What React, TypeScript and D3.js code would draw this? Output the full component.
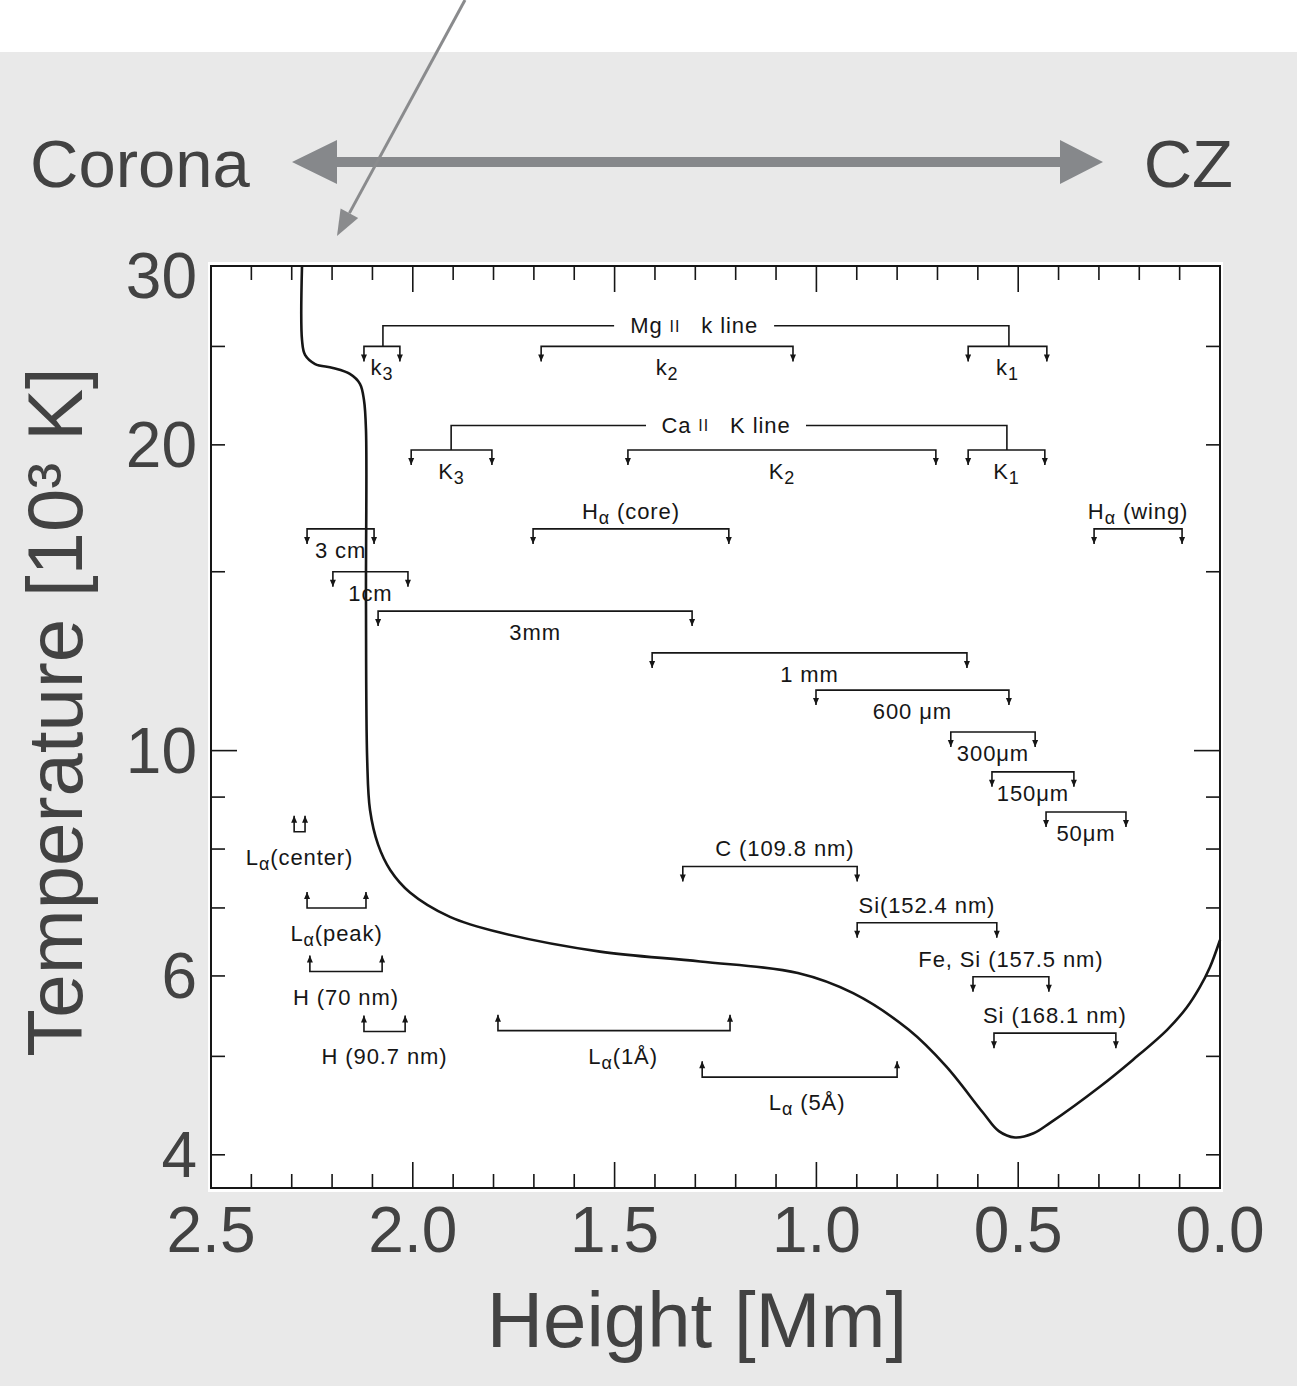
import * as d3 from "d3";

// ── Temperature profile (VAL-type model), height in Mm, T in 10^3 K ──

const profileHeight = [
  2.2745, 2.2745, 2.267, 2.242, 2.198, 2.156, 2.131, 2.121, 2.116, 2.116,
  2.113, 2.106, 2.086, 2.056, 2.007, 1.908, 1.784, 1.536, 1.288, 1.046,
  0.909, 0.771, 0.679, 0.587, 0.548, 0.508, 0.462, 0.421, 0.297, 0.216,
  0.131, 0.082, 0.05, 0.025, 0.0,
];
const profileTemp = [
  30, 25.37, 24.52, 24.02, 23.81, 23.49, 22.97, 22.14, 20.69, 14.07,
  9.79, 8.74, 8.08, 7.63, 7.25, 6.86, 6.62, 6.34, 6.2, 6.04,
  5.77, 5.31, 4.89, 4.4, 4.22, 4.16, 4.2, 4.3, 4.67, 4.96,
  5.31, 5.59, 5.85, 6.12, 6.51,
];

const xTickLabels = [2.5, 2.0, 1.5, 1.0, 0.5, 0.0];
const yTickLabels = [30, 20, 10, 6, 4];
const yTickValues = [4, 5, 6, 7, 8, 9, 10, 15, 20, 25];

// ── Formation-height brackets ──

interface Bracket {
  label: string; // "_x" marks a one-character subscript
  h0: number;
  h1: number;
  t: number;
  dir: "down" | "up";
  side: "below" | "above";
  labelH?: number;
}

const brackets: Bracket[] = [
  { label: "k_3", h0: 2.121, h1: 2.032, t: 25.0, dir: "down", side: "below" },
  { label: "k_2", h0: 1.682, h1: 1.058, t: 25.0, dir: "down", side: "below" },
  { label: "k_1", h0: 0.624, h1: 0.429, t: 25.0, dir: "down", side: "below" },
  { label: "K_3", h0: 2.004, h1: 1.804, t: 19.77, dir: "down", side: "below" },
  { label: "K_2", h0: 1.467, h1: 0.704, t: 19.77, dir: "down", side: "below" },
  { label: "K_1", h0: 0.624, h1: 0.434, t: 19.77, dir: "down", side: "below" },
  { label: "H_α (core)", h0: 1.702, h1: 1.217, t: 16.53, dir: "down", side: "above" },
  { label: "H_α (wing)", h0: 0.312, h1: 0.094, t: 16.53, dir: "down", side: "above" },
  { label: "3 cm", h0: 2.262, h1: 2.096, t: 16.53, dir: "down", side: "below" },
  { label: "1cm", h0: 2.198, h1: 2.012, t: 15.0, dir: "down", side: "below" },
  { label: "3mm", h0: 2.086, h1: 1.308, t: 13.72, dir: "down", side: "below" },
  { label: "1 mm", h0: 1.407, h1: 0.627, t: 12.48, dir: "down", side: "below" },
  { label: "600 μm", h0: 1.001, h1: 0.523, t: 11.47, dir: "down", side: "below" },
  { label: "300μm", h0: 0.667, h1: 0.458, t: 10.43, dir: "down", side: "below" },
  { label: "150μm", h0: 0.565, h1: 0.362, t: 9.53, dir: "down", side: "below" },
  { label: "50μm", h0: 0.431, h1: 0.233, t: 8.7, dir: "down", side: "below" },
  { label: "C (109.8 nm)", h0: 1.331, h1: 0.899, t: 7.69, dir: "down", side: "above", labelH: 1.078 },
  { label: "Si(152.4 nm)", h0: 0.899, h1: 0.553, t: 6.77, dir: "down", side: "above" },
  { label: "Fe, Si (157.5 nm)", h0: 0.612, h1: 0.424, t: 5.99, dir: "down", side: "above" },
  { label: "Si (168.1 nm)", h0: 0.56, h1: 0.258, t: 5.27, dir: "down", side: "above" },
  { label: "L_α(center)", h0: 2.294, h1: 2.267, t: 8.32, dir: "up", side: "below" },
  { label: "L_α(peak)", h0: 2.262, h1: 2.116, t: 7.0, dir: "up", side: "below" },
  { label: "H (70 nm)", h0: 2.255, h1: 2.076, t: 6.06, dir: "up", side: "below" },
  { label: "H (90.7 nm)", h0: 2.121, h1: 2.019, t: 5.29, dir: "up", side: "below" },
  { label: "L_α(1Å)", h0: 1.789, h1: 1.214, t: 5.3, dir: "up", side: "below", labelH: 1.479 },
  { label: "L_α (5Å)", h0: 1.283, h1: 0.8, t: 4.77, dir: "up", side: "below", labelH: 1.023 },
];

// line groups joining core/peak/wing brackets
const lineGroups = [
  { name: "Mg", ion: "II", rest: "k line", hLeft: 2.074, hRight: 0.523, t: 26.2, childT: 25.0, labelH: 1.303 },
  { name: "Ca", ion: "II", rest: "K line", hLeft: 1.905, hRight: 0.528, t: 20.9, childT: 19.77, labelH: 1.224 },
];

// ── Layout ──

const W = 1297;
const H = 1386;
const left = 211;
const right = 1220;
const top = 266;
const bottom = 1188;

const SLIDE_TEXT = "#424242";
const INK = "#161616";
const FONT = "'Liberation Sans', Arial, Helvetica, sans-serif";
const LABEL_SIZE = 22;
const NBSP = "\u00a0";

const x = d3.scaleLinear().domain([2.5, 0]).range([left, right]);
const y = d3.scaleLog().domain([3.71, 30]).range([bottom, top]);

function BracketLabel({ text, cx, cy }: { text: string; cx: number; cy: number }) {
  const parts = text.split("_");
  const nodes: any[] = [];
  parts.forEach((p, i) => {
    if (i === 0) {
      nodes.push(<tspan key={"m" + i}>{p}</tspan>);
      return;
    }
    nodes.push(
      <tspan key={"s" + i} fontSize={18} dy={7}>
        {p[0]}
      </tspan>
    );
    if (p.length > 1)
      nodes.push(
        <tspan key={"r" + i} fontSize={LABEL_SIZE} dy={-7}>
          {p.slice(1)}
        </tspan>
      );
  });
  return (
    <text
      x={cx}
      y={cy}
      textAnchor="middle"
      dominantBaseline="central"
      fontSize={LABEL_SIZE}
      letterSpacing={0.9}
      fill={INK}
    >
      {nodes}
    </text>
  );
}

function arrowHead(px: number, py: number, dir: "down" | "up") {
  const s = dir === "down" ? -1 : 1;
  return `M${px - 3},${py + s * 7}L${px + 3},${py + s * 7}L${px},${py}Z`;
}

export default function App() {
  const line = d3
    .line<number>()
    .x((_, i) => x(profileHeight[i]))
    .y((t) => y(t))
    .curve(d3.curveCatmullRom.alpha(0.5));

  const minorX = d3.range(0, 26).map((i) => i / 10);

  // slanted pointer arrow
  const p0 = [465, 0];
  const tip = [337, 236];
  const len = Math.hypot(p0[0] - tip[0], p0[1] - tip[1]);
  const ux = (p0[0] - tip[0]) / len;
  const uy = (p0[1] - tip[1]) / len;
  const bx = tip[0] + ux * 26;
  const by = tip[1] + uy * 26;
  const pointerHead = `M${tip[0]},${tip[1]}L${bx - uy * 10},${by + ux * 10}L${bx + uy * 10},${by - ux * 10}Z`;

  // double arrow Corona <-> CZ
  const ay = 162;
  const dbl = [
    [292, ay], [337, ay - 22], [337, ay - 5], [1060, ay - 5], [1060, ay - 22],
    [1103, ay], [1060, ay + 22], [1060, ay + 5], [337, ay + 5], [337, ay + 22],
  ];

  return (
    <div style={{ position: "absolute", left: 0, top: 0 }}>
      <svg width={W} height={H} style={{ display: "block" }} fontFamily={FONT}>
        <rect x={0} y={0} width={W} height={H} fill="#ffffff" />
        <rect x={0} y={52} width={W} height={H - 52} fill="#e9e9e9" />

        {/* slide annotations */}
        <text x={30} y={187} fontSize={67} fill={SLIDE_TEXT}>
          Corona
        </text>
        <text x={1233} y={187} fontSize={67} fill={SLIDE_TEXT} textAnchor="end">
          CZ
        </text>
        <polygon points={dbl.map((p) => p.join(",")).join(" ")} fill="#86888b" />

        {/* plot panel */}
        <rect x={left - 3} y={top - 4} width={right - left + 6} height={bottom - top + 8} fill="#ffffff" />
        <rect x={left} y={top} width={right - left} height={bottom - top} fill="none" stroke={INK} strokeWidth={2} />

        {/* ticks */}
        <g stroke={INK} strokeWidth={1.6}>
          {minorX.map((v, i) => {
            const major = i % 5 === 0;
            const len = major ? 26 : 14;
            return (
              <g key={"xt" + i}>
                <line x1={x(v)} x2={x(v)} y1={top} y2={top + len} />
                <line x1={x(v)} x2={x(v)} y1={bottom} y2={bottom - len} />
              </g>
            );
          })}
          {yTickValues.map((v) => {
            const len = v === 10 ? 26 : 14;
            return (
              <g key={"yt" + v}>
                <line x1={left} x2={left + len} y1={y(v)} y2={y(v)} />
                <line x1={right} x2={right - len} y1={y(v)} y2={y(v)} />
              </g>
            );
          })}
        </g>

        {/* temperature curve */}
        <path d={line(profileTemp) || ""} fill="none" stroke={INK} strokeWidth={2.6} />

        {/* line groups */}
        {lineGroups.map((g) => {
          const yg = y(g.t);
          const yc = y(g.childT);
          const xl = x(g.hLeft);
          const xr = x(g.hRight);
          const xm = x(g.labelH);
          const gap = 80;
          return (
            <g key={g.name}>
              <path
                d={`M${xl},${yc}L${xl},${yg}L${xm - gap},${yg}M${xm + gap},${yg}L${xr},${yg}L${xr},${yc}`}
                fill="none"
                stroke={INK}
                strokeWidth={1.6}
              />
              <text
                x={xm}
                y={yg}
                textAnchor="middle"
                dominantBaseline="central"
                fontSize={LABEL_SIZE}
                letterSpacing={0.9}
                fill={INK}
              >
                {g.name + NBSP}
                <tspan fontSize={16}>{g.ion}</tspan>
                {NBSP + NBSP + NBSP + g.rest}
              </text>
            </g>
          );
        })}

        {/* brackets */}
        {brackets.map((b, i) => {
          const yb = y(b.t);
          const x0 = x(b.h0);
          const x1 = x(b.h1);
          const tipLen = b.dir === "down" ? 15 : -16;
          const ye = yb + tipLen;
          const cx = b.labelH !== undefined ? x(b.labelH) : (x0 + x1) / 2;
          let cy = yb + 21;
          if (b.side === "above") cy = yb - 18;
          else if (b.dir === "up") cy = yb + 25;
          return (
            <g key={"b" + i}>
              <path d={`M${x0},${ye}L${x0},${yb}L${x1},${yb}L${x1},${ye}`} fill="none" stroke={INK} strokeWidth={1.6} />
              <path d={arrowHead(x0, ye, b.dir) + arrowHead(x1, ye, b.dir)} fill={INK} />
              <BracketLabel text={b.label} cx={cx} cy={cy} />
            </g>
          );
        })}

        {/* tick labels */}
        {xTickLabels.map((v) => (
          <text key={"xl" + v} x={x(v)} y={1252} fontSize={64} textAnchor="middle" fill={SLIDE_TEXT}>
            {d3.format(".1f")(v)}
          </text>
        ))}
        {yTickLabels.map((v) => (
          <text
            key={"yl" + v}
            x={197}
            y={Math.max(y(v), top + 10)}
            fontSize={64}
            textAnchor="end"
            dominantBaseline="central"
            fill={SLIDE_TEXT}
          >
            {v}
          </text>
        ))}

        {/* axis titles */}
        <text x={697} y={1347} fontSize={78} textAnchor="middle" fill={SLIDE_TEXT}>
          Height [Mm]
        </text>
        <text
          transform="translate(82,712) rotate(-90)"
          fontSize={78}
          textAnchor="middle"
          fill={SLIDE_TEXT}
        >
          Temperature [10³ K]
        </text>

        {/* pointer arrow */}
        <line x1={p0[0]} y1={p0[1]} x2={bx} y2={by} stroke="#8a8b8d" strokeWidth={3} />
        <path d={pointerHead} fill="#8a8b8d" />
      </svg>
    </div>
  );
}
